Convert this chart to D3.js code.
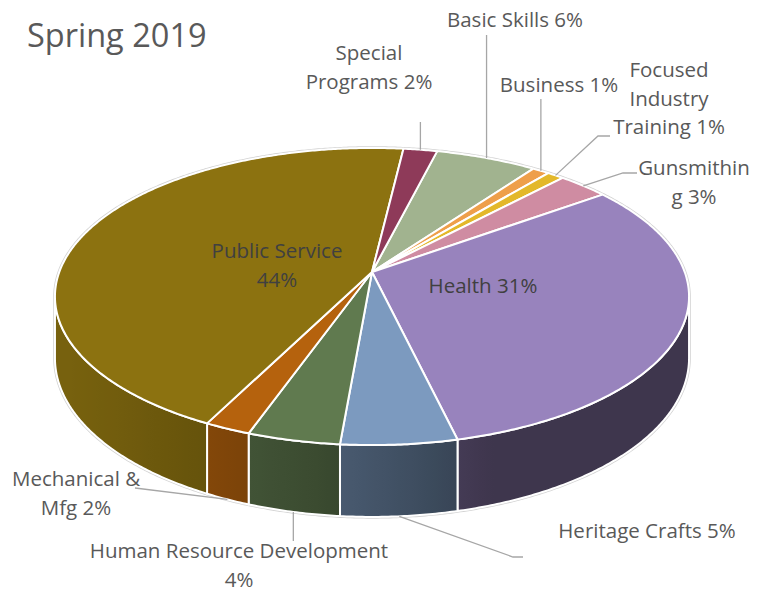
<!DOCTYPE html>
<html>
<head>
<meta charset="utf-8">
<script src="https://cdn.jsdelivr.net/npm/d3@7"></script>
<style>
  html, body { margin: 0; padding: 0; background: #ffffff; }
  svg { display: block; }
</style>
</head>
<body>
<svg id="chart" width="765" height="595"></svg>
<script>
// Enrolment share by programme area, Spring 2019 (percent, as labelled)
const categories = [
  "Basic Skills", "Business", "Focused Industry Training", "Gunsmithing",
  "Health", "Heritage Crafts", "Human Resource Development",
  "Mechanical & Mfg", "Public Service", "Special Programs"
];
const values = [6, 1, 1, 3, 31, 5, 4, 2, 44, 2];
const colors = [
  "#a1b38f", "#ee9f4a", "#e3b82a", "#cf8ca2", "#9883bd",
  "#7c9abf", "#607a4f", "#b5620d", "#8c7210", "#8e3a59"
];
// Label text per slice; "{p}" is replaced with the slice's percentage
const labelLines = [
  ["Basic Skills {p}"], ["Business {p}"], ["Focused", "Industry", "Training {p}"],
  ["Gunsmithin", "g {p}"], ["Health {p}"], ["Heritage Crafts {p}"],
  ["Human Resource Development", "{p}"], ["Mechanical &", "Mfg {p}"],
  ["Public Service", "{p}"], ["Special", "Programs {p}"]
];
const title = "Spring 2019";

// ---- layout -------------------------------------------------------------
const cx = 372, cy = 272;      // projected centre of the top face
const RX = 312.7, RY = 144.5;  // disc radii before perspective
const PERSP = -0.165;          // perspective factor (front larger)
const THICK = 60;              // wall thickness before perspective
const START = 14;              // first slice angle (degrees, clockwise from 12 o'clock)
const FONT = "'Open Sans', 'Liberation Sans', sans-serif";
const LABEL_SIZE = 20.5;
const LINE_H = 28.5;

// label placement: text centre x, first baseline, leader waypoints, inside flag
const labelLayout = [
  { x: 515, y: 27,  leader: [[null, 35]] },
  { x: 559, y: 92,  leader: [[null, 99]] },
  { x: 669, y: 77,  leader: [[598, 136], [610, 136]] },
  { x: 694, y: 175, leader: [[623, 173], [637, 173]] },
  { x: 483, y: 293, inside: true },
  { x: 647, y: 538, leader: [[513, 557], [523, 557]] },
  { x: 239, y: 558, leader: [[null, 541]] },
  { x: 76,  y: 486, leader: [[135, 488]] },
  { x: 277, y: 258, inside: true },
  { x: 369, y: 60,  leader: [[null, 122]] }
];

const rad = d => d * Math.PI / 180;

// project an angle on the rim (0 = back / 12 o'clock, clockwise) onto the screen
function proj(a, bottom) {
  const u = Math.sin(a), v = -Math.cos(a);
  const k = 1 + PERSP * v;
  return [cx + RX * u / k, cy + (RY * v + (bottom ? THICK : 0)) / k];
}
function arcPts(a0, a1, bottom) {
  const n = Math.max(2, Math.ceil(Math.abs(a1 - a0) / rad(0.5)));
  return d3.range(n + 1).map(i => proj(a0 + (a1 - a0) * i / n, bottom));
}
const line = d3.line();

// simple lighting on the side wall: light comes from the front-left
function shade(a) {
  const nx = Math.sin(a), nz = -Math.cos(a);
  const dot = Math.max(0, nx * -0.949 + nz * 0.316);
  return 0.41 + 0.443 * dot;
}

const total = d3.sum(values);
const pct = d3.format(".0%");
const pie = d3.pie().sort(null).value(d => d)
  .startAngle(rad(START)).endAngle(rad(START) + 2 * Math.PI);
const arcs = pie(values);

const svg = d3.select("#chart");
const defs = svg.append("defs");

// visible (front-facing) part of the side wall
const visA0 = Math.PI - Math.acos(-PERSP), visA1 = Math.PI + Math.acos(-PERSP);

// soft grey rim around the whole disc
const rimPts = arcPts(visA1, visA0 + 2 * Math.PI, false)
  .concat(arcPts(visA0, visA1, true));
svg.append("path")
  .attr("d", line(rimPts) + "Z")
  .attr("fill", "#ffffff")
  .attr("stroke", "#d2d2d2")
  .attr("stroke-width", 3.5)
  .attr("stroke-linejoin", "round");

// side walls, shaded with a horizontal gradient that follows the lighting
const walls = svg.append("g");
arcs.forEach((d, i) => {
  const a0 = Math.max(d.startAngle, visA0), a1 = Math.min(d.endAngle, visA1);
  if (a1 <= a0) return;
  const base = d3.rgb(colors[i]);
  const n = Math.max(2, Math.ceil((a1 - a0) / rad(2)));
  const samples = d3.range(n + 1).map(j => {
    const a = a0 + (a1 - a0) * j / n;
    const f = shade(a);
    return { x: proj(a, false)[0], c: d3.rgb(base.r * f, base.g * f, base.b * f).formatHex() };
  }).sort((p, q) => p.x - q.x);
  const x0 = samples[0].x, x1 = samples[samples.length - 1].x;
  const gid = "wall" + i;
  const grad = defs.append("linearGradient").attr("id", gid)
    .attr("gradientUnits", "userSpaceOnUse")
    .attr("x1", x0).attr("y1", 0).attr("x2", x1).attr("y2", 0);
  samples.forEach(s => grad.append("stop")
    .attr("offset", x1 > x0 ? (s.x - x0) / (x1 - x0) : 0)
    .attr("stop-color", s.c));
  const outline = arcPts(a0, a1, false).concat(arcPts(a1, a0, true));
  walls.append("path").attr("d", line(outline) + "Z")
    .attr("fill", `url(#${gid})`).attr("stroke", "#ffffff")
    .attr("stroke-width", 2).attr("stroke-linejoin", "round");
});

// top faces
const tops = svg.append("g");
arcs.forEach((d, i) => {
  const pts = [[cx, cy]].concat(arcPts(d.startAngle, d.endAngle, false));
  tops.append("path").attr("d", line(pts) + "Z")
    .attr("fill", colors[i]).attr("stroke", "#ffffff")
    .attr("stroke-width", 2).attr("stroke-linejoin", "round");
});

// leader lines and labels
const labels = svg.append("g").attr("font-family", FONT).attr("font-size", LABEL_SIZE);
arcs.forEach((d, i) => {
  const L = labelLayout[i];
  const mid = (d.startAngle + d.endAngle) / 2;
  if (!L.inside) {
    const front = Math.cos(mid) < 0;
    const anchor = proj(mid, front);
    const pts = [anchor].concat(L.leader.map(p => [p[0] === null ? anchor[0] : p[0], p[1]]));
    labels.append("path").attr("d", line(pts))
      .attr("fill", "none").attr("stroke", "#a6a6a6").attr("stroke-width", 1.3);
  }
  const p = pct(d.value / total);
  const t = labels.append("text")
    .attr("text-anchor", "middle")
    .attr("fill", L.inside ? "#404040" : "#595959");
  labelLines[i].forEach((s, k) => {
    t.append("tspan").attr("x", L.x).attr("y", L.y + k * LINE_H)
      .text(s.replace("{p}", p));
  });
});

svg.append("text")
  .attr("x", 27).attr("y", 47)
  .attr("font-family", FONT).attr("font-size", 32.5)
  .attr("fill", "#595959")
  .text(title);
</script>
</body>
</html>
